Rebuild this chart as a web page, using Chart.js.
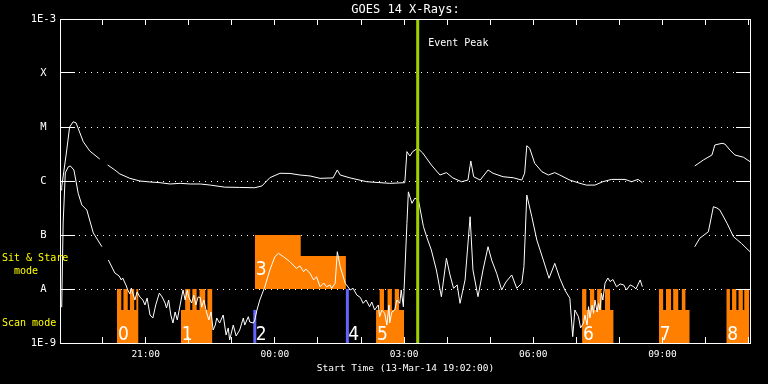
<!DOCTYPE html>
<html>
<head>
<meta charset="utf-8">
<title>GOES 14 X-Rays</title>
<script src="https://cdn.jsdelivr.net/npm/chart.js"></script>
<style>
  html, body { margin: 0; padding: 0; background: #000; }
  #wrap { width: 768px; height: 384px; }
</style>
</head>
<body>
<div id="wrap"><canvas id="chart"></canvas></div>
<script>
// GOES 14 long channel (1-8 A), W/m^2 ; null = data gap
const longTimes = ['19:02', '19:03', '19:10', '19:14', '19:19', '19:23', '19:33', '19:42', '19:56', '20:02',
  '20:07', '20:17', '20:24', '20:38', '20:52', '21:06', '21:20', '21:34', '21:48', '22:02', '22:16', '22:30',
  '22:50', '23:11', '23:32', '23:42', '23:53', '00:07', '00:21', '00:35', '00:49', '01:03', '01:21', '01:27',
  '01:31', '01:45', '02:08', '02:40', '03:01', '03:04', '03:08', '03:12', '03:19', '03:26', '03:38', '03:50',
  '03:59', '04:08', '04:20', '04:29', '04:33', '04:37', '04:46', '04:57', '05:04', '05:18', '05:32', '05:44',
  '05:48', '05:51', '05:55', '06:02', '06:12', '06:21', '06:30', '06:37', '06:51', '07:05', '07:14', '07:26',
  '07:37', '07:49', '08:08', '08:17', '08:26', '08:32', '09:10', '09:45', '09:57', '10:09', '10:13', '10:23',
  '10:27', '10:34', '10:41', '10:53', '11:02'];
const longFlux = [6.8e-7, 7.7e-7, 3.75e-6, 1.0e-5, 1.25e-5, 1.19e-5, 5.35e-6, 3.6e-6, 2.55e-6, null,
  1.98e-6, 1.6e-6, 1.35e-6, 1.12e-6, 1.0e-6, 9.6e-7, 9.3e-7, 8.8e-7, 9.05e-7, 8.8e-7, 8.8e-7, 8.4e-7,
  7.7e-7, 7.6e-7, 7.5e-7, 8.1e-7, 1.15e-6, 1.39e-6, 1.38e-6, 1.29e-6, 1.24e-6, 1.12e-6, 1.14e-6, 1.6e-6,
  1.29e-6, 1.14e-6, 9.7e-7, 9.05e-7, 9.3e-7, 3.5e-6, 2.9e-6, 3.5e-6, 4.04e-6, 3.3e-6, 1.98e-6, 1.29e-6,
  1.43e-6, 1.14e-6, 9.7e-7, 1.04e-6, 2.35e-6, 1.2e-6, 1.04e-6, 1.6e-6, 1.39e-6, 1.2e-6, 1.15e-6, 1.04e-6,
  1.39e-6, 4.5e-6, 4.04e-6, 2.13e-6, 1.49e-6, 1.29e-6, 1.43e-6, 1.29e-6, 1.04e-6, 9.05e-7, 8.4e-7, 8.4e-7,
  9.7e-7, 1.07e-6, 1.07e-6, 9.7e-7, 1.07e-6, 9.3e-7, null, 1.9e-6, 2.45e-6, 3.03e-6, 4.64e-6, 4.99e-6,
  4.84e-6, 3.75e-6, 3.03e-6, 2.75e-6, 2.28e-6];

// GOES 14 short channel (0.5-4 A), W/m^2
const shortTimes = ['19:03', '19:05', '19:08', '19:12', '19:15', '19:20', '19:26', '19:31', '19:38', '19:47',
  '19:59', '20:03', '20:08', '20:17', '20:23', '20:26', '20:28', '20:33', '20:35', '20:38', '20:40', '20:42',
  '20:45', '20:48', '20:52', '20:56', '20:59', '21:02', '21:06', '21:10', '21:14', '21:19', '21:23', '21:27',
  '21:29', '21:32', '21:35', '21:38', '21:41', '21:44', '21:48', '21:52', '21:55', '21:58', '22:00', '22:04',
  '22:07', '22:10', '22:13', '22:16', '22:18', '22:21', '22:25', '22:28', '22:31', '22:34', '22:37', '22:39',
  '22:43', '22:48', '22:52', '22:55', '22:57', '23:02', '23:06', '23:11', '23:16', '23:18', '23:23', '23:25',
  '23:30', '23:32', '23:35', '23:39', '23:46', '23:53', '00:00', '00:05', '00:12', '00:21', '00:30', '00:35',
  '00:40', '00:43', '00:49', '00:54', '00:58', '01:03', '01:08', '01:12', '01:17', '01:19', '01:24', '01:27',
  '01:31', '01:38', '01:45', '01:49', '01:54', '01:59', '02:03', '02:07', '02:12', '02:15', '02:19', '02:24',
  '02:26', '02:29', '02:33', '02:36', '02:39', '02:40', '02:43', '02:47', '02:50', '02:54', '02:56', '02:59',
  '03:04', '03:06', '03:11', '03:15', '03:20', '03:27', '03:32', '03:38', '03:45', '03:52', '03:59', '04:04',
  '04:09', '04:14', '04:18', '04:25', '04:32', '04:36', '04:43', '04:50', '04:57', '05:02', '05:09', '05:16',
  '05:22', '05:30', '05:37', '05:44', '05:47', '05:51', '05:58', '06:05', '06:14', '06:22', '06:30', '06:37',
  '06:44', '06:51', '06:55', '06:58', '07:03', '07:06', '07:10', '07:12', '07:15', '07:17', '07:19', '07:22',
  '07:24', '07:26', '07:29', '07:31', '07:33', '07:35', '07:37', '07:40', '07:44', '07:47', '07:51', '07:56',
  '08:01', '08:06', '08:10', '08:15', '08:20', '08:23', '08:29', '08:32', '09:10', '09:45', '09:52', '10:04',
  '10:11', '10:16', '10:20', '10:30', '10:39', '10:50', '11:02'];
const shortFlux = [4.6e-9, 1.67e-7, 1.41e-6, 1.82e-6, 1.9e-6, 1.6e-6, 5.9e-7, 3.6e-7, 2.9e-7, 1.09e-7,
  6.07e-8, null, 3.44e-8, 1.98e-8, 1.74e-8, 1.47e-8, 1.6e-8, 1.14e-8, 9.6e-9, 8.1e-9, 1.04e-8, 8.4e-9,
  6.25e-9, 8.8e-9, 7.1e-9, 6.25e-9, 5.06e-9, 6.8e-9, 3.3e-9, 2.9e-9, 5.06e-9, 8.4e-9, 7.1e-9, 5.5e-9,
  4.45e-9, 6.25e-9, 3.3e-9, 2.34e-9, 3.75e-9, 2.67e-9, 5.06e-9, 9.6e-9, 6.25e-9, 9.6e-9, 7.1e-9, 5.5e-9,
  7.75e-9, 5.06e-9, 7.1e-9, 7.0e-9, 4.6e-9, 6.25e-9, 3.6e-9, 2.67e-9, 3.75e-9, 1.74e-9, 2.15e-9, 2.9e-9,
  2.34e-9, 3.3e-9, 1.41e-9, 1.9e-9, 1.14e-9, 2.15e-9, 1.35e-9, 1.74e-9, 2.9e-9, 2.15e-9, 3.07e-9, 2.45e-9,
  2.34e-9, 2.67e-9, 4.08e-9, 6.25e-9, 1.1e-8, 2.25e-8, 3.96e-8, 4.58e-8, 3.96e-8, 3.2e-8, 2.41e-8, 2.67e-8,
  2.09e-8, 2.35e-8, 1.95e-8, 1.47e-8, 1.69e-8, 1.1e-8, 1.29e-8, 1.1e-8, 1.19e-8, 1.03e-8, 1.28e-8, 4.9e-8,
  2.59e-8, 1.28e-8, 9.6e-9, 1.03e-8, 7.75e-9, 7.0e-9, 5.43e-9, 6.25e-9, 4.7e-9, 5.74e-9, 4.08e-9, 5.06e-9,
  3.07e-9, 4.08e-9, 3.55e-9, 2.15e-9, 5.06e-9, 2.34e-9, 3.75e-9, 4.08e-9, 6.25e-9, 5.43e-9, 9.6e-9, 4.7e-9,
  1.65e-7, 6.3e-7, 3.86e-7, 4.8e-7, 4.45e-7, 1.43e-7, 8.8e-8, 5.27e-8, 2.25e-8, 7.2e-9, 3.7e-8, 1.82e-8,
  1.03e-8, 1.19e-8, 5.43e-9, 1.47e-8, 2.18e-7, 2.25e-8, 7.2e-9, 2.25e-8, 6.07e-8, 3.44e-8, 1.95e-8, 9.6e-9,
  1.35e-8, 1.82e-8, 1.03e-8, 1.28e-8, 2.59e-8, 5.5e-7, 2.18e-7, 8.07e-8, 3.44e-8, 1.58e-8, 2.99e-8, 1.58e-8,
  9.6e-9, 6.73e-9, 1.31e-9, 4.08e-9, 3.07e-9, 1.9e-9, 2.34e-9, 3.3e-9, 2.15e-9, 4.7e-9, 2.9e-9, 5.06e-9,
  3.55e-9, 6.25e-9, 3.75e-9, 5.43e-9, 4.08e-9, 8.3e-9, 6.25e-9, 1.28e-8, 1.6e-8, 1.37e-8, 1.5e-8, 1.1e-8,
  1.24e-8, 1.19e-8, 9.6e-9, 1.19e-8, 1.1e-8, 1.0e-8, 1.47e-8, 1.1e-8, null, 6.07e-8, 8.7e-8, 1.15e-7,
  3.34e-7, 3.16e-7, 2.9e-7, 1.65e-7, 9.3e-8, 7.0e-8, 4.9e-8];

const goesClasses = ['1E-9', 'A', 'B', 'C', 'M', 'X', '1E-3'];
const startTime = '19:02';
const endTime = '11:02';
const eventPeak = '03:19';

// IRIS observations: scan (rasters), sit & stare, and single lines
const scanLabels = ['0', '1', '5', '6', '7', '8'];
const scanStart = ['20:20', '21:49', '02:21', '07:08', '08:55', '10:29'];
const scanEnd = ['20:50', '22:33', '03:00', '07:52', '09:38', '11:01'];
const scanRasters = [
  [['20:20', '20:26'], ['20:29', '20:35'], ['20:38', '20:44'], ['20:47', '20:50']],
  [['21:55', '22:02'], ['22:05', '22:11'], ['22:15', '22:23'], ['22:26', '22:33']],
  [['02:26', '02:32'], ['02:37', '02:43'], ['02:47', '02:53']],
  [['07:08', '07:14'], ['07:19', '07:25'], ['07:29', '07:35'], ['07:40', '07:47']],
  [['08:55', '09:01'], ['09:05', '09:12'], ['09:15', '09:22'], ['09:27', '09:32']],
  [['10:29', '10:34'], ['10:37', '10:43'], ['10:46', '10:52'], ['10:54', '11:01']]
];
const stareLabel = '3';
const stareTimes = ['23:32', '00:36', '01:39'];
const stareLevels = [1e-7, 4.1e-8];
const lineLabels = ['2', '4'];
const lineTimes = ['23:32', '01:41'];
const lineTops = [4.1e-9, 1e-8];

const FLOOR = 1e-9, SCAN_TOP = 4.1e-9, RASTER_TOP = 1e-8;
const ORANGE = '#ff8000';
const MONO = '"DejaVu Sans Mono", monospace';

const toHours = (s) => {
  const [h, m] = s.split(':').map(Number);
  const v = h + m / 60;
  return v < 19 ? v + 24 : v;
};
const series = (times, flux) => times.map((t, i) => ({ x: toHours(t), y: flux[i] }));

function scanOutline(i) {
  const a = toHours(scanStart[i]), b = toHours(scanEnd[i]);
  const pts = [{ x: a, y: FLOOR }, { x: a, y: SCAN_TOP }];
  scanRasters[i].forEach(([s, e]) => {
    const u = toHours(s), v = toHours(e);
    pts.push({ x: u, y: SCAN_TOP }, { x: u, y: RASTER_TOP }, { x: v, y: RASTER_TOP }, { x: v, y: SCAN_TOP });
  });
  pts.push({ x: b, y: SCAN_TOP }, { x: b, y: FLOOR });
  return pts;
}

function stareOutline() {
  const pts = [{ x: toHours(stareTimes[0]), y: RASTER_TOP }];
  stareLevels.forEach((lv, i) => {
    pts.push({ x: toHours(stareTimes[i]), y: lv }, { x: toHours(stareTimes[i + 1]), y: lv });
  });
  pts.push({ x: toHours(stareTimes[stareTimes.length - 1]), y: RASTER_TOP });
  return pts;
}

const base = { pointRadius: 0, pointHoverRadius: 0, tension: 0 };
const datasets = [
  { ...base, label: 'Event Peak', order: 0, borderColor: '#a0d000', borderWidth: 3,
    data: [{ x: toHours(eventPeak), y: FLOOR }, { x: toHours(eventPeak), y: 1e-3 }] },
  { ...base, label: 'GOES 1-8 A', order: 1, borderColor: '#fff', borderWidth: 1, data: series(longTimes, longFlux) },
  { ...base, label: 'GOES 0.5-4 A', order: 1, borderColor: '#fff', borderWidth: 1, data: series(shortTimes, shortFlux) },
  ...lineTimes.map((t, i) => ({ ...base, label: 'obs ' + lineLabels[i], order: 2, borderColor: '#6464ff', borderWidth: 3,
    data: [{ x: toHours(t), y: FLOOR }, { x: toHours(t), y: lineTops[i] }] })),
  { ...base, label: 'obs ' + stareLabel, order: 3, borderColor: 'rgba(0,0,0,0)', borderWidth: 1,
    backgroundColor: ORANGE, fill: { value: RASTER_TOP }, data: stareOutline() },
  ...scanLabels.map((l, i) => ({ ...base, label: 'obs ' + l, order: 3, borderColor: 'rgba(0,0,0,0)', borderWidth: 1,
    backgroundColor: ORANGE, fill: 'start', data: scanOutline(i) }))
];

const goesFrame = {
  id: 'goesFrame',
  afterDatasetsDraw(chart) {
    const { ctx, scales: { x, y } } = chart;
    ctx.save();
    ctx.fillStyle = '#fff';
    ctx.font = '19px "Liberation Sans Narrow", "DejaVu Sans Condensed", sans-serif';
    ctx.textAlign = 'left';
    ctx.textBaseline = 'middle';
    const yScan = y.getPixelForValue(1.4e-9);
    scanLabels.forEach((l, i) => ctx.fillText(l, x.getPixelForValue(toHours(scanStart[i])) + 1, yScan));
    lineLabels.forEach((l, i) => ctx.fillText(l, x.getPixelForValue(toHours(lineTimes[i])) + 1, yScan));
    ctx.fillText(stareLabel, x.getPixelForValue(toHours(stareTimes[0])) + 1, y.getPixelForValue(2.2e-8));
    ctx.restore();
  },
  afterDraw(chart) {
    const { ctx, chartArea: a, scales: { x, y } } = chart;
    const align = (p) => Math.round(p - 0.5) + 0.5;
    ctx.save();
    ctx.strokeStyle = '#fff';
    ctx.lineWidth = 1;
    ctx.strokeRect(a.left - 0.5, a.top + 0.5, a.right - a.left + 1, a.bottom - a.top);
    ctx.beginPath();
    x.ticks.forEach((t) => {
      const px = align(x.getPixelForValue(t.value));
      ctx.moveTo(px, a.bottom); ctx.lineTo(px, a.bottom - 6);
      ctx.moveTo(px, a.top); ctx.lineTo(px, a.top + 6);
    });
    y.ticks.forEach((t, i) => {
      if (i === 0 || i === y.ticks.length - 1) return;
      const py = align(y.getPixelForValue(t.value));
      ctx.moveTo(a.left, py); ctx.lineTo(a.left + 14, py);
      ctx.moveTo(a.right - 14, py); ctx.lineTo(a.right, py);
    });
    ctx.stroke();

    // titles and annotations
    ctx.fillStyle = '#fff';
    ctx.textBaseline = 'middle';
    ctx.textAlign = 'center';
    ctx.font = '12px ' + MONO;
    ctx.fillText('GOES 14 X-Rays:', (a.left + a.right) / 2, 10);
    ctx.textAlign = 'left';
    ctx.font = '10px ' + MONO;
    ctx.fillText('Event Peak', x.getPixelForValue(toHours(eventPeak)) + 10.5, y.getPixelForValue(3.6e-4));
    ctx.fillStyle = '#ffff00';
    const ySit = y.getPixelForValue(3.75e-8);
    ctx.fillText('Sit & Stare', 2, ySit);
    ctx.fillText('  mode', 2, ySit + 13);
    ctx.fillText('Scan mode', 2, y.getPixelForValue(2.3e-9));
    ctx.restore();
  }
};

new Chart(document.getElementById('chart'), {
  type: 'line',
  data: { datasets },
  options: {
    responsive: true,
    maintainAspectRatio: false,
    animation: false,
    events: [],
    layout: { padding: { left: 0, right: 18, top: 19, bottom: 0 } },
    plugins: {
      legend: { display: false },
      tooltip: { enabled: false },
      title: { display: false }
    },
    scales: {
      x: {
        type: 'linear',
        min: toHours(startTime),
        max: toHours(endTime),
        afterBuildTicks: (s) => {
          const ticks = [];
          for (let h = Math.ceil(s.min); h <= s.max; h++) ticks.push({ value: h });
          s.ticks = ticks;
        },
        afterFit: (s) => { s.height = 41; },
        grid: { display: false, drawTicks: false },
        border: { display: false },
        ticks: {
          color: '#fff',
          autoSkip: false,
          maxRotation: 0,
          padding: 6,
          font: { family: MONO, size: 9.5 },
          callback: (v) => (v % 3 === 0 ? String(v % 24).padStart(2, '0') + ':00' : '')
        },
        title: {
          display: true,
          text: 'Start Time (13-Mar-14 19:02:00)',
          color: '#fff',
          font: { family: MONO, size: 9.5 },
          padding: { top: 10, bottom: 10 }
        }
      },
      y: {
        type: 'logarithmic',
        min: 1e-9,
        max: 1e-3,
        afterBuildTicks: (s) => {
          s.ticks = goesClasses.map((_, i) => ({ value: Math.pow(10, i - 9) }));
        },
        afterFit: (s) => { s.width = 61; },
        grid: {
          drawTicks: false,
          lineWidth: 1,
          color: (c) => (c.index > 0 && c.index < goesClasses.length - 1 ? '#fff' : 'rgba(0,0,0,0)')
        },
        border: { display: false, dash: [1, 5] },
        ticks: {
          color: '#fff',
          autoSkip: false,
          padding: 5,
          crossAlign: 'center',
          font: { family: MONO, size: 10.5 },
          callback: (v, i) => goesClasses[i]
        }
      }
    }
  },
  plugins: [goesFrame]
});
</script>
</body>
</html>
